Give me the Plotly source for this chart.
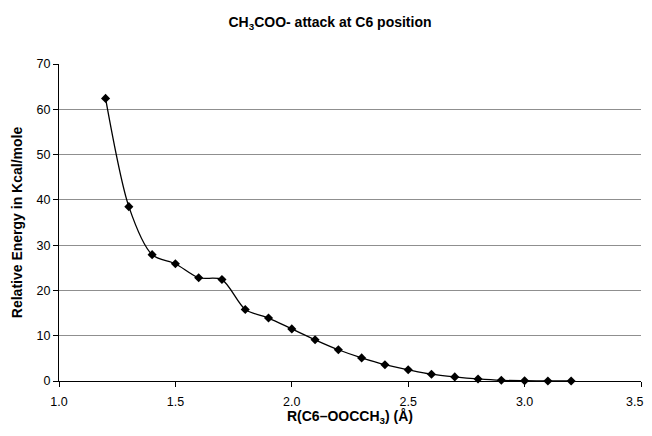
import plotly.graph_objects as go

r_values = [1.2, 1.3, 1.4, 1.5, 1.6, 1.7, 1.8, 1.9, 2.0, 2.1, 2.2, 2.3, 2.4, 2.5,
            2.6, 2.7, 2.8, 2.9, 3.0, 3.1, 3.2]
energy = [62.4, 38.5, 27.9, 25.9, 22.8, 22.4, 15.8, 13.9, 11.5, 9.1, 6.9, 5.1,
          3.6, 2.5, 1.5, 0.9, 0.45, 0.15, 0.05, 0.0, 0.0]
x_ticks = [1.0, 1.5, 2.0, 2.5, 3.0, 3.5]
y_ticks = [0, 10, 20, 30, 40, 50, 60, 70]

font = "Liberation Sans, Arial, sans-serif"

fig = go.Figure(go.Scatter(
    x=r_values, y=energy, mode="lines+markers",
    line=dict(color="black", width=1.3, shape="spline", smoothing=0.8),
    marker=dict(symbol="diamond", size=7, color="black"),
    showlegend=False, cliponaxis=False,
))

# page body has an ~8px margin; figure sized to fit the 652x436 window without scrolling
fig.update_layout(
    width=644, height=418,
    margin=dict(l=51, r=11, t=56, b=45),
    paper_bgcolor="white", plot_bgcolor="white",
    font=dict(family=font, color="black", size=12.5),
    title=dict(text="<b>CH<sub>3</sub>COO- attack at C6 position</b>",
               x=0.5, xanchor="center", y=1 - 14 / 418, yanchor="middle",
               font=dict(size=14, family=font)),
)
# last tick label drawn right-anchored so it is not cut by the window edge
tick_text = [f"{v:.1f}" for v in x_ticks]
fig.update_xaxes(
    range=[1.0, 3.5], tickvals=x_ticks, ticktext=tick_text[:-1] + [""],
    showgrid=False, showline=True, linecolor="black", linewidth=1.2,
    ticks="outside", ticklen=5, tickcolor="black", zeroline=False, automargin=False,
    ticklabelstandoff=4,
    title=dict(text="<b>R(C6–OOCCH<sub>3</sub>) (Å)</b>", font=dict(size=14), standoff=6),
)
fig.add_annotation(
    x=x_ticks[-1], y=0, xref="x", yref="y", text=tick_text[-1], showarrow=False,
    xanchor="right", yanchor="middle", xshift=4, yshift=-21,
    font=dict(size=12.5, family=font, color="black"),
)
fig.update_yaxes(
    range=[0, 70], tickvals=y_ticks,
    showgrid=True, gridcolor="#8f8f8f", gridwidth=1,
    showline=True, linecolor="black", linewidth=1.2,
    ticks="outside", ticklen=5, tickcolor="black", zeroline=False, automargin=False,
    title=dict(text="<b>Relative Energy in Kcal/mole</b>", font=dict(size=14), standoff=10),
)

fig.write_html("out.html")
